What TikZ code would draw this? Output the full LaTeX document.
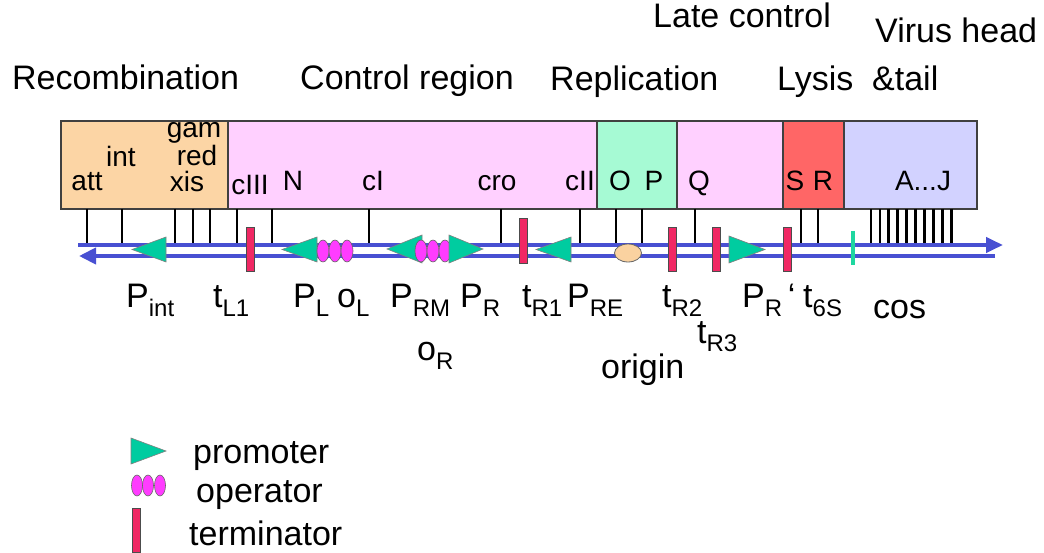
\documentclass[tikz,border=0pt]{standalone}
\usepackage{fontspec}
\setmainfont{Liberation Sans}
\usepackage{tikz}
\usetikzlibrary{arrows.meta}
\definecolor{recomb}{RGB}{252,213,165}
\definecolor{ctrlpink}{RGB}{255,208,255}
\definecolor{replgreen}{RGB}{166,250,212}
\definecolor{lysisred}{RGB}{255,102,102}
\definecolor{headblue}{RGB}{210,210,255}
\definecolor{strandblue}{RGB}{72,80,210}
\definecolor{promteal}{RGB}{0,204,160}
\definecolor{opmagenta}{RGB}{255,60,255}
\definecolor{termred}{RGB}{240,40,100}
\definecolor{cosgreen}{RGB}{30,215,160}
\definecolor{oripeach}{RGB}{250,210,160}
\newcommand{\sbs}[1]{\raisebox{-9pt}{\fontsize{24}{24}\selectfont #1}}

\begin{document}
\begin{tikzpicture}[x=1pt,y=-1pt,>=Latex,
  big/.style={font=\fontsize{34}{40}\selectfont,inner sep=0pt,anchor=base west},
  gene/.style={font=\fontsize{28}{32}\selectfont,inner sep=0pt,anchor=base},
  tick/.style={line width=2.8pt},
  region/.style={draw=black!75,line width=1.5pt},
  prom/.style={fill=promteal,draw=black!50,line width=0.6pt},
  oper/.style={fill=opmagenta,draw=black!60,line width=0.6pt},
  term/.style={fill=termred,draw=black!70,line width=0.8pt},
  strand/.style={strandblue,line width=4pt}]
  \useasboundingbox (0,0) rectangle (1044,553);
  % functional regions
  \node[big] (recomb) at (12,90) {Recombination};
  \node[big] (ctrl) at (300,90) {Control region};
  \node[big] (repl) at (550,91) {Replication};
  \node[big] (late) at (653,28) {Late control};
  \node[big] (lysis) at (777,91) {Lysis};
  \node[big] (virus) at (875,43) {Virus head};
  \node[big] (tail) at (872,91) {\&tail};
  \draw[region,fill=recomb] (61,121) rectangle (228,209);
  \draw[region,fill=ctrlpink] (228,121) rectangle (597,209);
  \draw[region,fill=replgreen] (597,121) rectangle (677,209);
  \draw[region,fill=ctrlpink] (677,121) rectangle (783,209);
  \draw[region,fill=lysisred] (783,121) rectangle (844,209);
  \draw[region,fill=headblue] (844,121) rectangle (977,209);
  % genes
  \node[gene] (att) at (87,191) {att};
  \node[gene] (int) at (121,167) {int};
  \node[gene] (gam) at (194,138) {gam};
  \node[gene] (red) at (197,166) {red};
  \node[gene] (xis) at (187,192) {xis};
  \node[gene] (cIII) at (250,195) {cIII};
  \node[gene] (N) at (293,191) {N};
  \node[gene] (cI) at (373,191) {cI};
  \node[gene] (cro) at (497,191) {cro};
  \node[gene] (cII) at (580,191) {cII};
  \node[gene] (O) at (620,191) {O};
  \node[gene] (P) at (654,191) {P};
  \node[gene] (Q) at (699,191) {Q};
  \node[gene] (S) at (795,191) {S};
  \node[gene] (R) at (823,191) {R};
  \node[gene] (AJ) at (923,191) {A...J};
  \foreach \x in {87,122,175,193,210,237,272,369,501,580,616,642,695,801,818}
    \draw[tick] (\x,209) -- (\x,245);
  \foreach \i in {0,...,9}
    \draw[tick] ({871+8.9*\i},209) -- ({871+8.9*\i},245);
  % DNA strands
  \draw[strand,-{Triangle[length=17pt,width=15pt]}] (78,245) -- (1003,245);
  \draw[strand,-{Triangle[length=17pt,width=16pt]}] (995,256) -- (79,256);
  % promoters
  \filldraw[prom] (166,237) -- (132,249.5) -- (166,262) -- cycle;
  \filldraw[prom] (317,237) -- (282,249.5) -- (317,262) -- cycle;
  \filldraw[prom] (422,235) -- (387,249) -- (422,263) -- cycle;
  \filldraw[prom] (571,237) -- (536,249.5) -- (571,262) -- cycle;
  \filldraw[prom] (729,236) -- (765,249.5) -- (729,263) -- cycle;
  % operators
  \foreach \x in {323,335,347}
    \draw[oper] (\x,251) ellipse [x radius=6,y radius=11];
  \foreach \x in {421,433,445}
    \draw[oper] (\x,251) ellipse [x radius=6,y radius=11];
  \filldraw[prom] (449,235) -- (483,249) -- (449,263) -- cycle;
  % terminators
  \draw[term] (246,227) rectangle (254,271);
  \draw[term] (519,218) rectangle (527,263);
  \draw[term] (668,227) rectangle (676,271);
  \draw[term] (712,227) rectangle (720,271);
  \draw[term] (783,227) rectangle (791,271);
  % origin and cos
  \draw[fill=oripeach,draw=black!60,line width=0.8pt] (628,253) ellipse [x radius=13.5,y radius=9];
  \draw[cosgreen,line width=3.5pt] (853,231) -- (853,265);
  % element labels
  \node[big] (Pint) at (126,308) {P\sbs{int}};
  \node[big] (tL1) at (213,308) {t\sbs{L1}};
  \node[big] (PL) at (293,308) {P\sbs{L}};
  \node[big] (oL) at (337,308) {o\sbs{L}};
  \node[big] (PRM) at (390,308) {P\sbs{RM}};
  \node[big] (oR) at (417,360) {o\sbs{R}};
  \node[big] (PR) at (460,308) {P\sbs{R}};
  \node[big] (tR1) at (522,308) {t\sbs{R1}};
  \node[big] (PRE) at (567,308) {P\sbs{RE}};
  \node[big] (origin) at (601,378) {origin};
  \node[big] (tR2) at (662,308) {t\sbs{R2}};
  \node[big] (tR3) at (697,343) {t\sbs{R3}};
  \node[big] (PRp) at (742,308) {P\sbs{R}\,‘};
  \node[big] (t6S) at (803,308) {t\sbs{6S}};
  \node[big] (cos) at (873,319) {cos};
  % legend
  \filldraw[prom] (131,438) -- (166,451) -- (131,464) -- cycle;
  \foreach \x in {137,148,160}
    \draw[oper] (\x,485.5) ellipse [x radius=5.5,y radius=10.5];
  \draw[term] (132,508) rectangle (140,552);
  \node[big] (lprom) at (193,463) {promoter};
  \node[big] (lop) at (196,502) {operator};
  \node[big] (lterm) at (189,545) {terminator};
\end{tikzpicture}
\end{document}
